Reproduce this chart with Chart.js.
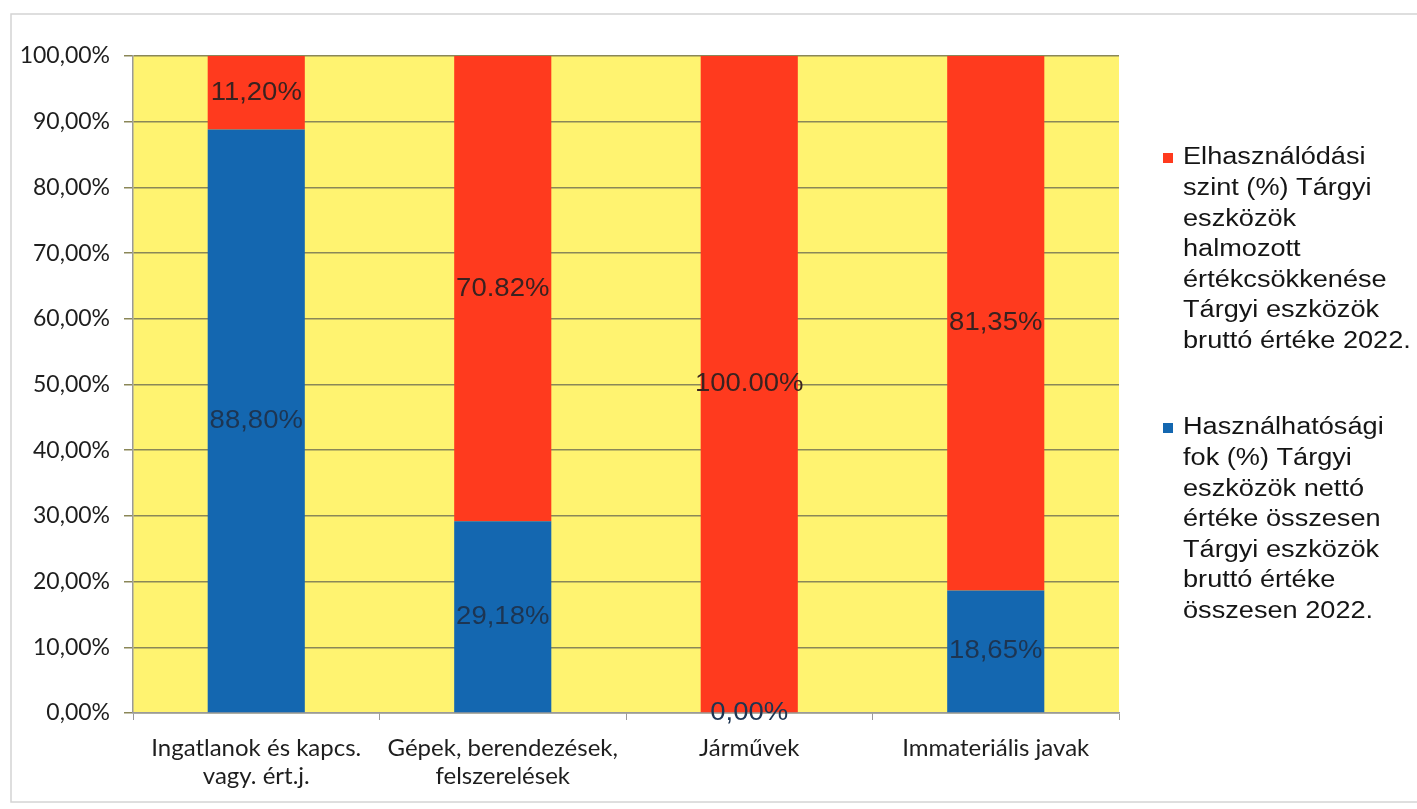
<!DOCTYPE html>
<html>
<head>
<meta charset="utf-8">
<script src="https://cdn.jsdelivr.net/npm/chart.js@4"></script>
<style>
  html, body { margin: 0; padding: 0; background: #fff; }
  #wrap { width: 1417px; height: 809px; position: relative; }
</style>
</head>
<body>
<div id="wrap"><canvas id="chart"></canvas></div>
<script>
const categories = [
    ['Ingatlanok és kapcs.', 'vagy. ért.j.'],
    ['Gépek, berendezések,', 'felszerelések'],
    'Járművek',
    'Immateriális javak'
];
const usableValues = [88.80, 29.18, 0.00, 18.65];
const wornValues = [11.20, 70.82, 100.00, 81.35];
const usableLabels = ['88,80%', '29,18%', '0,00%', '18,65%'];
const wornLabels = ['11,20%', '70.82%', '100.00%', '81,35%'];
const yTicks = [0, 10, 20, 30, 40, 50, 60, 70, 80, 90, 100];

const wornName = ['Elhasználódási', 'szint (%) Tárgyi', 'eszközök', 'halmozott',
    'értékcsökkenése', 'Tárgyi eszközök', 'bruttó értéke 2022.'];
const usableName = ['Használhatósági', 'fok (%) Tárgyi', 'eszközök nettó',
    'értéke összesen', 'Tárgyi eszközök', 'bruttó értéke', 'összesen 2022.'];

const RED = '#ff3a1e';
const BLUE = '#1467b0';
const YELLOW = '#fff370';

// text drawn slightly stretched sideways, the source was a wide scan
function wideText(ctx, text, x, y, sx) {
    ctx.save();
    ctx.translate(x, y);
    ctx.scale(sx, 1);
    ctx.fillText(text, 0, 0);
    ctx.restore();
}

// yellow plot background + outer frame
const backdrop = {
    id: 'backdrop',
    beforeDraw(chart) {
        const { ctx, chartArea: a } = chart;
        ctx.save();
        ctx.fillStyle = YELLOW;
        ctx.fillRect(a.left, a.top, a.right - a.left, a.bottom - a.top);
        ctx.strokeStyle = '#d4d4d4';
        ctx.lineWidth = 1.5;
        ctx.strokeRect(11, 14, 1420, 788);
        ctx.restore();
    }
};

// value labels centered in each bar segment
const segLabels = {
    id: 'segLabels',
    afterDatasetsDraw(chart) {
        const ctx = chart.ctx;
        ctx.save();
        ctx.font = '25px "Liberation Sans", Arial, sans-serif';
        ctx.textAlign = 'center';
        ctx.textBaseline = 'middle';
        chart.data.datasets.forEach((ds, i) => {
            const meta = chart.getDatasetMeta(i);
            meta.data.forEach((bar, j) => {
                const y = (bar.y + bar.base) / 2;
                ctx.fillStyle = i === 0 ? '#1d3552' : '#3a2220';
                wideText(ctx, ds.valueLabels[j], bar.x, y, 1.1);
            });
        });
        ctx.restore();
    }
};

// legend on the right, wrapped text like the original
const sideLegend = {
    id: 'sideLegend',
    afterDraw(chart) {
        const ctx = chart.ctx;
        ctx.save();
        ctx.font = '23px "Liberation Sans", Arial, sans-serif';
        ctx.textBaseline = 'middle';
        const blocks = [
            { color: RED, lines: wornName, top: 158 },
            { color: BLUE, lines: usableName, top: 428 }
        ];
        blocks.forEach(b => {
            ctx.fillStyle = b.color;
            ctx.fillRect(1163, b.top - 5, 10, 10);
            ctx.fillStyle = '#151515';
            b.lines.forEach((t, k) => wideText(ctx, t, 1183, b.top + k * 30.6, 1.18));
        });
        ctx.restore();
    }
};

new Chart(document.getElementById('chart'), {
    type: 'bar',
    data: {
        labels: categories,
        datasets: [
            { label: usableName.join(' '), data: usableValues, valueLabels: usableLabels,
              backgroundColor: BLUE, categoryPercentage: 1, barPercentage: 0.394 },
            { label: wornName.join(' '), data: wornValues, valueLabels: wornLabels,
              backgroundColor: RED, categoryPercentage: 1, barPercentage: 0.394 }
        ]
    },
    options: {
        responsive: true,
        maintainAspectRatio: false,
        animation: false,
        layout: { padding: { top: 56, right: 298, left: 0, bottom: 0 } },
        plugins: {
            legend: { display: false },
            tooltip: { enabled: false }
        },
        scales: {
            x: {
                stacked: true,
                afterFit(s) { s.height = 96; },
                border: { color: '#9a9a9a', width: 1.5 },
                grid: { drawOnChartArea: false, drawTicks: true, tickLength: 7, color: '#9a9a9a', offset: true },
                ticks: {
                    color: '#1e1e1e',
                    padding: 14,
                    maxRotation: 0,
                    autoSkip: false,
                    font: { family: 'Lato, "Open Sans", sans-serif', size: 24, lineHeight: 1.17 }
                }
            },
            y: {
                stacked: true,
                min: 0,
                max: 100,
                afterFit(s) { s.width = 133; },
                afterBuildTicks(s) { s.ticks = yTicks.map(v => ({ value: v })); },
                border: { color: '#9a9a9a', width: 1.5 },
                grid: { color: '#8a8758', lineWidth: 1.5, tickLength: 9 },
                ticks: {
                    color: '#1e1e1e',
                    padding: 14,
                    font: { family: 'Lato, "Open Sans", sans-serif', size: 23 },
                    callback: v => v.toFixed(2).replace('.', ',') + '%'
                }
            }
        }
    },
    plugins: [backdrop, segLabels, sideLegend]
});
</script>
</body>
</html>
